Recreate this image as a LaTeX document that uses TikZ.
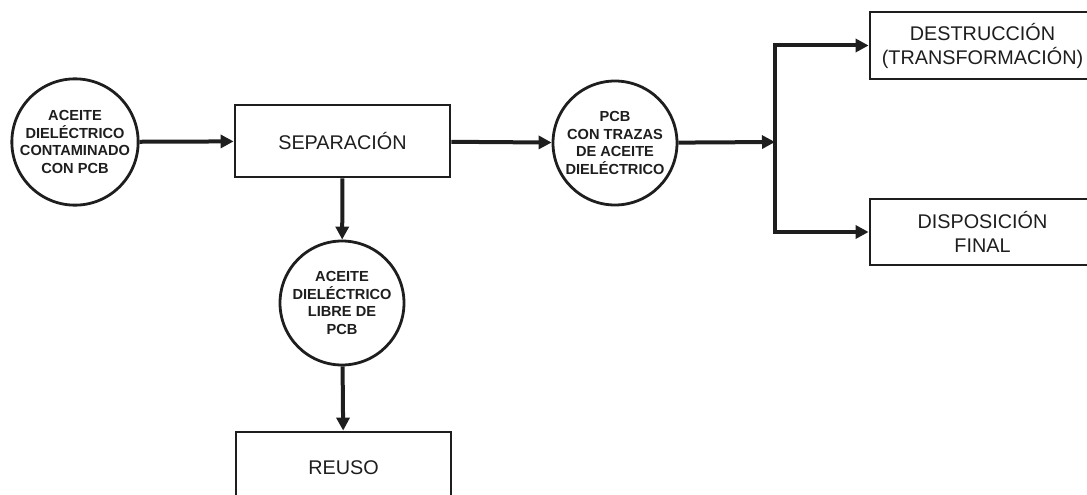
\documentclass[tikz,border=0pt]{standalone}
\usepackage{fontspec}
\setmainfont{Liberation Sans}
\usetikzlibrary{arrows.meta}
\definecolor{ink}{HTML}{1E1E1E}
\tikzset{
  stream/.style={circle, draw=ink, line width=2.8pt, minimum size=124pt, inner sep=0pt,
    align=center, font=\fontsize{14.6}{17.5}\selectfont\bfseries, text=ink},
  unit/.style={rectangle, draw=ink, line width=2.8pt, inner sep=0pt,
    align=center, font=\fontsize{19.8}{24}\selectfont, text=ink},
  flow/.style={draw=ink, line width=4pt, -{Triangle[length=13pt,width=13pt]}},
}
\begin{document}
\begin{tikzpicture}[x=1pt,y=-1pt]
  \useasboundingbox (0,0) rectangle (1087,495);
  \begin{scope}
    \clip (0,0) rectangle (1087,495);
    % input stream and separation stage
    \node[stream] (feed) at (75,142) {ACEITE\\DIELÉCTRICO\\CONTAMINADO\\CON PCB};
    \node[unit, minimum width=215pt, minimum height=72pt] (sep) at (342.5,141) {SEPARACIÓN};
    % separated streams
    \node[stream] (pcb) at (615,143) {PCB\\CON TRAZAS\\DE ACEITE\\DIELÉCTRICO};
    \node[stream] (clean) at (342,303) {ACEITE\\DIELÉCTRICO\\LIBRE DE\\PCB};
    % final destinations
    \node[unit, minimum width=215pt, minimum height=72pt] (reuse) at (343.5,468) {REUSO};
    \node[unit, minimum width=225pt, minimum height=67pt] (dest) at (982.5,45.5) {DESTRUCCIÓN\\(TRANSFORMACIÓN)};
    \node[unit, minimum width=225pt, minimum height=66pt] (disp) at (982.5,232) {DISPOSICIÓN\\FINAL};
    \coordinate (split) at (775,142);
    % connectors
    \draw[flow] (feed) -- (sep);
    \draw[flow] (sep) -- (pcb);
    \draw[flow] (sep) -- (clean);
    \draw[flow] (clean) -- (reuse);
    \draw[flow] (pcb) -- (split);
    \draw[flow] (split) |- (dest.west);
    \draw[flow] (split) |- (disp.west);
  \end{scope}
\end{tikzpicture}
\end{document}
